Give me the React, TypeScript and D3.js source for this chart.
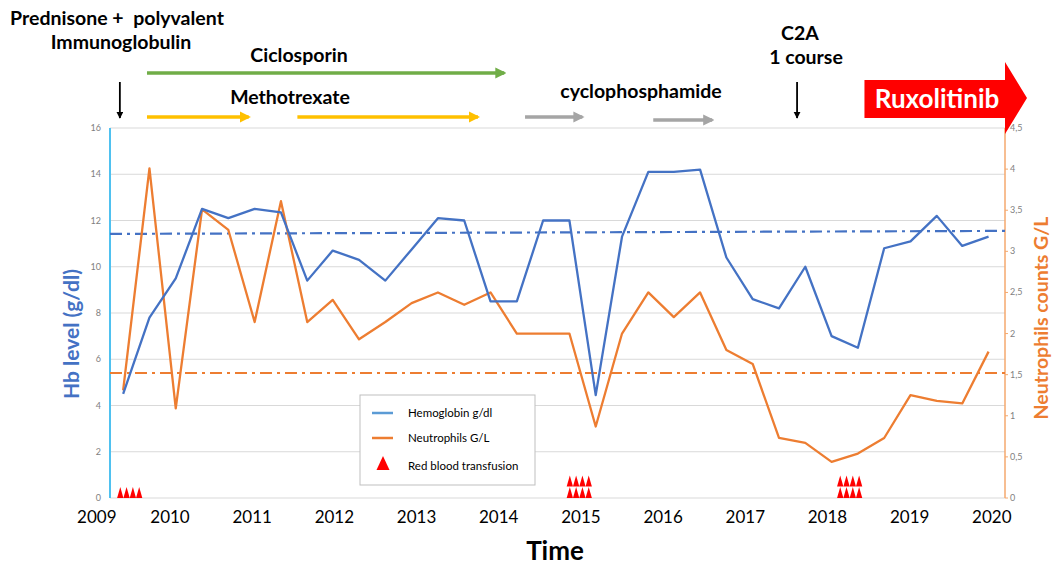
import * as d3 from 'd3';

// sampling dates (decimal years) of the lab values
const dates = [
  2009.43, 2009.75, 2010.07, 2010.39, 2010.71, 2011.03, 2011.35, 2011.67, 2011.98,
  2012.3, 2012.62, 2012.94, 2013.26, 2013.58, 2013.9, 2014.22, 2014.54, 2014.86,
  2015.18, 2015.5, 2015.82, 2016.13, 2016.45, 2016.77, 2017.09, 2017.41, 2017.73,
  2018.05, 2018.37, 2018.69, 2019.01, 2019.33, 2019.64, 2019.96,
];

const hemoglobin = [
  4.5, 7.8, 9.5, 12.5, 12.1, 12.5, 12.35, 9.4, 10.7, 10.3, 9.4, 10.75, 12.1, 12.0,
  8.5, 8.5, 12.0, 12.0, 4.45, 11.3, 14.1, 14.1, 14.2, 10.4, 8.6, 8.2, 10.0, 7.0,
  6.5, 10.8, 11.1, 12.2, 10.9, 11.3,
];

const neutrophils = [
  1.31, 4.01, 1.09, 3.51, 3.26, 2.14, 3.61, 2.14, 2.41, 1.93, 2.14, 2.37, 2.5, 2.35,
  2.5, 2.0, 2.0, 2.0, 0.87, 2.0, 2.5, 2.2, 2.5, 1.8, 1.63, 0.73, 0.67, 0.44, 0.54,
  0.73, 1.25, 1.18, 1.15, 1.78,
];

// reference levels (start, end)
const hbReference = [11.42, 11.55];
const neutroReference = [1.52, 1.52];

const yearTicks = [2009, 2010, 2011, 2012, 2013, 2014, 2015, 2016, 2017, 2018, 2019, 2020];
const hbTicks = [0, 2, 4, 6, 8, 10, 12, 14, 16];
const neutroTicks = [0, 0.5, 1, 1.5, 2, 2.5, 3, 3.5, 4, 4.5];

// red blood transfusions: group date, number of rows of 4
const transfusionDates = [2009.51, 2014.98, 2018.27];
const transfusionRows = [1, 2, 2];

// treatment arrows
const therapies = [
  { name: 'Ciclosporin', start: 2009.72, end: 2014.14, color: '#70AD47', row: 0 },
  { name: 'Methotrexate', start: 2009.72, end: 2011.03, color: '#FFC000', row: 1 },
  { name: 'Methotrexate', start: 2011.55, end: 2013.82, color: '#FFC000', row: 1 },
  { name: 'cyclophosphamide', start: 2014.32, end: 2015.09, color: '#A5A5A5', row: 1 },
  { name: 'cyclophosphamide', start: 2015.88, end: 2016.67, color: '#A5A5A5', row: 2 },
];
const singleEvents = [2009.39, 2017.63]; // Prednisone+IVIG, C2A
const ruxolitinibStart = 2018.45;

const legendItems = [
  { label: 'Hemoglobin g/dl', color: '#5B9BD5', kind: 'line' },
  { label: 'Neutrophils G/L', color: '#ED7D31', kind: 'line' },
  { label: 'Red blood transfusion', color: '#FF0000', kind: 'tri' },
];

export default function App() {
  const width = 1056;
  const height = 569;
  const left = 110;
  const right = 1005;
  const top = 128;
  const bottom = 498;
  const font = 'Lato, "Open Sans", sans-serif';

  const x = d3.scaleLinear().domain([2009.27, 2020.16]).range([left, right]);
  const yHb = d3.scaleLinear().domain([0, 16]).range([bottom, top]);
  const yN = d3.scaleLinear().domain([0, 4.5]).range([bottom, top]);

  const hbLine = d3
    .line<number>()
    .x((_, i) => x(dates[i]))
    .y((d) => yHb(d));
  const nLine = d3
    .line<number>()
    .x((_, i) => x(dates[i]))
    .y((d) => yN(d));

  const arrowRowY = [73, 117, 120];

  const triangle = (cx: number, base: number, w: number, h: number) =>
    `M${cx - w / 2},${base}L${cx},${base - h}L${cx + w / 2},${base}Z`;

  return (
    <svg width={width} height={height} style={{ position: 'absolute', left: 0, top: 0 }}>
      <rect width={width} height={height} fill="#fff" />

      {/* gridlines */}
      {hbTicks.map((t) => (
        <line key={t} x1={left} x2={right} y1={yHb(t)} y2={yHb(t)} stroke="#D9D9D9" strokeWidth={1.2} />
      ))}

      {/* left axis */}
      <line x1={left} x2={left} y1={top} y2={bottom} stroke="#4FC1F0" strokeWidth={2} />
      {hbTicks.map((t) => (
        <text key={t} x={left - 9} y={yHb(t) + 3} textAnchor="end" fontSize={9} fill="#7F7F7F" fontFamily={font}>
          {t}
        </text>
      ))}

      {/* right axis */}
      <line x1={right} x2={right} y1={top} y2={bottom} stroke="#F4A86E" strokeWidth={1.5} />
      {neutroTicks.map((t) => (
        <g key={t}>
          <line x1={right} x2={right + 3} y1={yN(t)} y2={yN(t)} stroke="#F4A86E" strokeWidth={1} />
          <text x={right + 5} y={yN(t) + 3} fontSize={9} fill="#7F7F7F" fontFamily={font}>
            {String(t).replace('.', ',')}
          </text>
        </g>
      ))}

      {/* reference lines */}
      <line
        x1={left}
        x2={right}
        y1={yHb(hbReference[0])}
        y2={yHb(hbReference[1])}
        stroke="#4472C4"
        strokeWidth={2.2}
        strokeDasharray="12 5 3 5"
      />
      <line
        x1={left}
        x2={right}
        y1={yN(neutroReference[0])}
        y2={yN(neutroReference[1])}
        stroke="#ED7D31"
        strokeWidth={2.2}
        strokeDasharray="12 5 3 5"
      />

      {/* series */}
      <path d={nLine(neutrophils) ?? ''} fill="none" stroke="#ED7D31" strokeWidth={2.3} strokeLinejoin="round" />
      <path d={hbLine(hemoglobin) ?? ''} fill="none" stroke="#4472C4" strokeWidth={2.3} strokeLinejoin="round" />

      {/* transfusions */}
      {transfusionDates.map((d, gi) =>
        d3.range(transfusionRows[gi]).map((r) =>
          d3.range(4).map((k) => (
            <path
              key={`${gi}-${r}-${k}`}
              d={triangle(x(d) + (k - 1.5) * 6.3, bottom - r * 11.5, 6.3, 11)}
              fill="#FF0000"
            />
          ))
        )
      )}

      {/* x axis labels */}
      {yearTicks.map((t, i) => (
        <text
          key={t}
          x={i === 0 ? x(t) + 9 : x(t)}
          y={523}
          textAnchor="middle"
          fontSize={17}
          fill="#000"
          fontFamily={font}
        >
          {t}
        </text>
      ))}
      <text x={555} y={560} textAnchor="middle" fontSize={26} fontWeight="bold" fontFamily={font}>
        Time
      </text>

      {/* axis titles */}
      <text
        transform={`translate(79,${334}) rotate(-90)`}
        textAnchor="middle"
        fontSize={21}
        fontWeight="bold"
        fill="#4472C4"
        fontFamily={font}
      >
        Hb level (g/dl)
      </text>
      <text
        transform={`translate(1048,${318}) rotate(-90)`}
        textAnchor="middle"
        fontSize={19.5}
        fontWeight="bold"
        fill="#ED7D31"
        fontFamily={font}
      >
        Neutrophils counts G/L
      </text>

      {/* legend */}
      <g transform="translate(360,395)">
        <rect width={175} height={90} fill="#fff" stroke="#BFBFBF" strokeWidth={1} />
        {legendItems.map((it, i) => (
          <g key={it.label} transform={`translate(0,${18 + i * 25})`}>
            {it.kind === 'line' ? (
              <line x1={12} x2={33} y1={0} y2={0} stroke={it.color} strokeWidth={2.5} />
            ) : (
              <path d={triangle(23, 7, 13, 14)} fill={it.color} />
            )}
            <text x={48} y={i === 2 ? 7 : 4} fontSize={11.5} fontFamily={font} fill="#000">
              {it.label}
            </text>
          </g>
        ))}
      </g>

      {/* treatments */}
      <defs>
        {therapies.map((t, i) => (
          <marker
            key={i}
            id={`head${i}`}
            viewBox="0 0 10 10"
            refX={8}
            refY={5}
            markerWidth={3.2}
            markerHeight={3.2}
            orient="auto"
            markerUnits="strokeWidth"
          >
            <path d="M0,0L10,5L0,10Z" fill={t.color} />
          </marker>
        ))}
        <marker id="blackHead" viewBox="0 0 10 10" refX={9} refY={5} markerWidth={4} markerHeight={4} orient="auto">
          <path d="M0,0L10,5L0,10Z" fill="#000" />
        </marker>
      </defs>
      {therapies.map((t, i) => (
        <line
          key={i}
          x1={x(t.start)}
          x2={x(t.end) - 6}
          y1={arrowRowY[t.row]}
          y2={arrowRowY[t.row]}
          stroke={t.color}
          strokeWidth={3.5}
          markerEnd={`url(#head${i})`}
        />
      ))}
      {singleEvents.map((d) => (
        <line
          key={d}
          x1={x(d)}
          x2={x(d)}
          y1={82}
          y2={118}
          stroke="#000"
          strokeWidth={1.8}
          markerEnd="url(#blackHead)"
        />
      ))}

      <g fontFamily={font} fontWeight="bold" fontSize={19.5} fill="#000" textAnchor="middle">
        <text x={117} y={25} style={{ whiteSpace: 'pre' }}>{'Prednisone +  polyvalent'}</text>
        <text x={121} y={49}>Immunoglobulin</text>
        <text x={299} y={62}>Ciclosporin</text>
        <text x={290} y={104}>Methotrexate</text>
        <text x={641} y={98}>cyclophosphamide</text>
        <text x={800} y={40}>C2A</text>
        <text x={806} y={64}>1 course</text>
      </g>

      {/* Ruxolitinib arrow */}
      <path
        d={`M${x(ruxolitinibStart)},80H1005V62L1027,98L1005,134V118H${x(ruxolitinibStart)}Z`}
        fill="#FF0000"
      />
      <text
        x={937}
        y={108}
        textAnchor="middle"
        fontSize={26}
        fontWeight="bold"
        fill="#fff"
        fontFamily={font}
      >
        Ruxolitinib
      </text>
    </svg>
  );
}
